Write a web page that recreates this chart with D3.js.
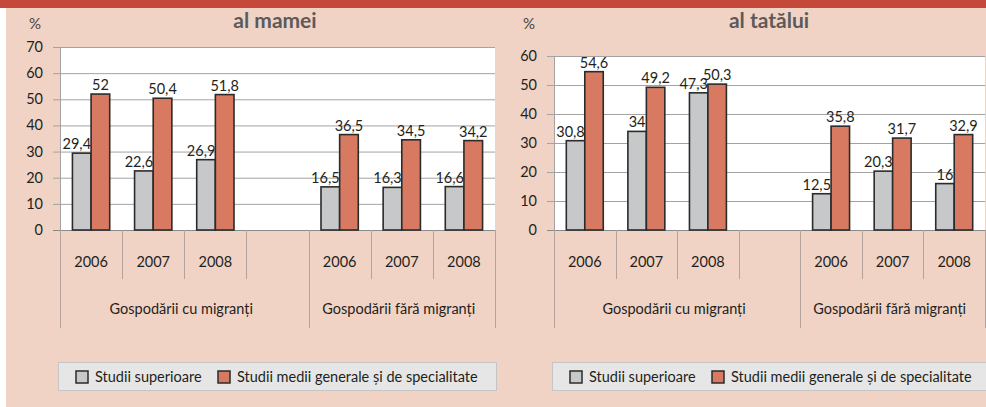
<!DOCTYPE html>
<html>
<head>
<meta charset="utf-8">
<script src="https://cdn.jsdelivr.net/npm/d3@7"></script>
<style>
  body { margin: 0; background: #fff; }
  svg text { font-family: Lato, "Open Sans", sans-serif; fill: #231f20; }
</style>
</head>
<body>
<script>
// categories: 3 years per group, with an empty slot between the two groups
var slots = ["a2006", "a2007", "a2008", "gap", "b2006", "b2007", "b2008"];
var slotLabels = ["2006", "2007", "2008", "", "2006", "2007", "2008"];
var groups = ["Gospodării cu migranți", "Gospodării fără migranți"];
var series = ["Studii superioare", "Studii medii generale și de specialitate"];
var colors = ["#c7c8ca", "#d77a61"];

// al mamei
var mamaSup = [29.4, 22.6, 26.9, null, 16.5, 16.3, 16.6];
var mamaMed = [52, 50.4, 51.8, null, 36.5, 34.5, 34.2];
var mamaTicks = [0, 10, 20, 30, 40, 50, 60, 70];

// al tatălui
var tataSup = [30.8, 34, 47.3, null, 12.5, 20.3, 16];
var tataMed = [54.6, 49.2, 50.3, null, 35.8, 31.7, 32.9];
var tataTicks = [0, 10, 20, 30, 40, 50, 60];

var W = 986, H = 407;
var svg = d3.select("body").append("svg")
    .attr("width", W)
    .attr("height", H);

// background + top red band
svg.append("rect").attr("x", 6).attr("y", 0).attr("width", W - 6).attr("height", H).attr("fill", "#f1d3c5");
svg.append("rect").attr("x", 0).attr("y", 0).attr("width", W).attr("height", 8).attr("fill", "#c4493a");

function fmt(v) { return String(v).replace(".", ","); }

function drawPanel(p) {
    var g = svg.append("g");
    var y = d3.scaleLinear().domain([0, p.max]).range([230, p.top]);
    var x = d3.scaleBand().domain(slots).range([p.left, p.right]).padding(0);
    var bw = x.bandwidth();
    var xs = d3.scaleBand().domain([0, 1]).range([bw * 0.2, bw * 0.8]).padding(0);

    // plot area
    g.append("rect")
        .attr("x", p.left).attr("y", y(p.max))
        .attr("width", p.right - p.left).attr("height", y(0) - y(p.max))
        .attr("fill", "#fff");

    // gridlines and ticks
    g.selectAll(".grid").data(p.ticks).enter().append("line")
        .attr("x1", p.left - 7).attr("x2", p.right)
        .attr("y1", function(d) { return y(d) + 0.5; })
        .attr("y2", function(d) { return y(d) + 0.5; })
        .attr("stroke", function(d) { return d === 0 ? "#8a8a8a" : "#a3a3a3"; })
        .attr("stroke-width", 1);

    g.selectAll(".ytick").data(p.ticks).enter().append("text")
        .attr("x", p.left - 17)
        .attr("y", function(d) { return y(d) + 5; })
        .attr("text-anchor", "end")
        .style("font-size", "14.5px")
        .text(function(d) { return d; });

    g.append("line")
        .attr("x1", p.left + 0.5).attr("x2", p.left + 0.5)
        .attr("y1", y(p.max)).attr("y2", 328)
        .attr("stroke", "#a3a3a3");

    // year separators
    var bounds = slots.map(function(s) { return x(s); }).concat([p.right]);
    g.selectAll(".sep").data(bounds).enter().append("line")
        .attr("x1", function(d) { return Math.round(d) + 0.5; })
        .attr("x2", function(d) { return Math.round(d) + 0.5; })
        .attr("y1", 230)
        .attr("y2", function(d, i) { return (i === 0 || i === 4 || i === 7) ? 328 : 279; })
        .attr("stroke", "#b3a39b");

    g.selectAll(".year").data(slotLabels).enter().append("text")
        .attr("x", function(d, i) { return x(slots[i]) + bw / 2; })
        .attr("y", 267)
        .attr("text-anchor", "middle")
        .style("font-size", "14.5px")
        .text(function(d) { return d; });

    // group labels
    var spans = [[x(slots[0]), x(slots[4])], [x(slots[4]), p.right]];
    g.selectAll(".grp").data(groups).enter().append("text")
        .attr("x", function(d, i) { return (spans[i][0] + spans[i][1]) / 2 - 3; })
        .attr("y", 314)
        .attr("text-anchor", "middle")
        .style("font-size", "14.5px")
        .text(function(d) { return d; });

    // bars
    var vals = [p.sup, p.med];
    vals.forEach(function(arr, si) {
        var idx = d3.range(arr.length).filter(function(i) { return arr[i] != null; });
        g.selectAll(".bar" + si).data(idx).enter().append("rect")
            .attr("x", function(i) { return x(slots[i]) + xs(si); })
            .attr("y", function(i) { return y(arr[i]); })
            .attr("width", xs.bandwidth())
            .attr("height", function(i) { return y(0) - y(arr[i]); })
            .attr("fill", colors[si])
            .attr("stroke", "#2b2b2b")
            .attr("stroke-width", 1.6);

        g.selectAll(".lab" + si).data(idx).enter().append("text")
            .attr("y", function(i) { return y(arr[i]) - 4; })
            .attr("text-anchor", "middle")
            .style("font-size", "14.5px")
            .text(function(i) { return fmt(arr[i]); })
            .attr("x", function(i) {
                var cx = x(slots[i]) + xs(si) + xs.bandwidth() / 2;
                if (si === 0) {
                    var w = this.getComputedTextLength();
                    var right = x(slots[i]) + xs(si) + xs.bandwidth();
                    return Math.min(cx, right - w / 2);
                }
                return cx;
            });
    });

    // title and unit
    svg.append("text").attr("x", p.left - 31).attr("y", 29)
        .style("font-size", "15px").style("fill", "#444").text("%");
    svg.append("text").attr("x", p.titleX).attr("y", 28)
        .attr("text-anchor", "middle")
        .style("font-size", "21px").style("font-weight", "bold").style("fill", "#5b5b5b")
        .text(p.title);

    // legend
    var lg = svg.append("g");
    lg.append("rect")
        .attr("x", p.left - 1.5).attr("y", 362.5)
        .attr("width", p.legendW).attr("height", 28)
        .attr("fill", "#e6e6e7").attr("stroke", "#c5c5c5");
    var lx = [p.left + 16, p.left + 158];
    series.forEach(function(s, i) {
        lg.append("rect")
            .attr("x", lx[i]).attr("y", 371)
            .attr("width", 12).attr("height", 12)
            .attr("fill", colors[i]).attr("stroke", "#2b2b2b").attr("stroke-width", 1.5);
        lg.append("text")
            .attr("x", lx[i] + 19).attr("y", 382)
            .style("font-size", "14.5px")
            .text(s);
    });
}

drawPanel({ title: "al mamei", titleX: 275, left: 60, right: 495, top: 47, max: 70,
    ticks: mamaTicks, sup: mamaSup, med: mamaMed, legendW: 438 });
drawPanel({ title: "al tatălui", titleX: 769, left: 554, right: 985, top: 56, max: 60,
    ticks: tataTicks, sup: tataSup, med: tataMed, legendW: 434 });
</script>
</body>
</html>
